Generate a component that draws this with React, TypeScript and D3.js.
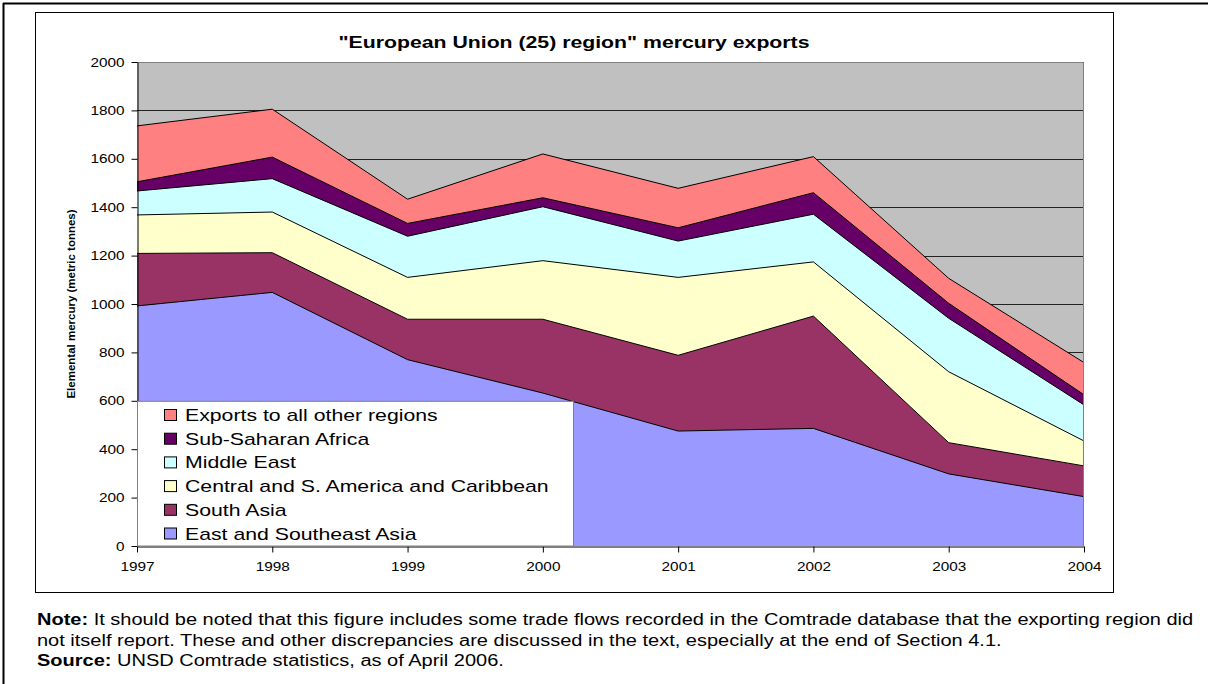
import React, { useEffect, useRef } from 'react'
import * as d3 from 'd3'

// values, metric tonnes
const years = [1997, 1998, 1999, 2000, 2001, 2002, 2003, 2004]
const eastAsia = [992, 1048, 770, 632, 475, 486, 298, 204]
const southAsia = [217, 164, 167, 305, 313, 464, 129, 127]
const latinAmerica = [159, 168, 173, 242, 322, 224, 293, 103]
const middleEast = [99, 138, 170, 223, 150, 197, 221, 149]
const subSaharan = [38, 89, 53, 37, 55, 89, 62, 42]
const otherRegions = [231, 198, 100, 181, 163, 149, 103, 133]

const seriesNames = [
  'East and Southeast Asia',
  'South Asia',
  'Central and S. America and Caribbean',
  'Middle East',
  'Sub-Saharan Africa',
  'Exports to all other regions'
]
const seriesColors = ['#9999ff', '#993366', '#ffffcc', '#ccffff', '#660066', '#ff8080']
const yTicks = [0, 200, 400, 600, 800, 1000, 1200, 1400, 1600, 1800, 2000]

const FONT = 'Liberation Sans, Arial, sans-serif'
// the source picture's text is a bit wider than Arial
const STRETCH = 1.25

function App () {
  const ref = useRef<SVGSVGElement>(null)

  useEffect(() => {
    const svg = d3.select(ref.current)
    svg.selectAll('*').remove()

    const allSeries = [eastAsia, southAsia, latinAmerica, middleEast, subSaharan, otherRegions]
    const rows = years.map((yr, i) => {
      const row: any = { year: yr }
      seriesNames.forEach((n, k) => { row[n] = allSeries[k][i] })
      return row
    })
    const stacked = d3.stack().keys(seriesNames)(rows)

    const left = 137
    const right = 1084
    const top = 62
    const bottom = 546

    const x = d3.scaleLinear().domain([1997, 2004]).range([left, right])
    const y = d3.scaleLinear().domain([0, 2000]).range([bottom, top])

    // wide text: placed at (tx, ty) and stretched horizontally
    function wideText (parent: any, tx: number, ty: number, s = STRETCH) {
      return parent.append('text').attr('transform', `translate(${tx},${ty}) scale(${s},1)`)
    }

    // page frame lines
    svg.append('line').attr('x1', 3).attr('x2', 1208).attr('y1', 3.5).attr('y2', 3.5)
      .attr('stroke', '#000').attr('stroke-width', 2)
    svg.append('line').attr('x1', 3.5).attr('x2', 3.5).attr('y1', 3).attr('y2', 684)
      .attr('stroke', '#000').attr('stroke-width', 2)

    // chart frame
    svg.append('rect').attr('x', 35.5).attr('y', 12.5).attr('width', 1078).attr('height', 580)
      .attr('fill', '#fff').attr('stroke', '#000').attr('stroke-width', 1)

    wideText(svg, 574, 48)
      .attr('text-anchor', 'middle')
      .attr('font-family', FONT).attr('font-size', 17).attr('font-weight', 'bold')
      .text('"European Union (25) region" mercury exports')

    // plot area
    svg.append('rect').attr('x', left).attr('y', top).attr('width', right - left).attr('height', bottom - top)
      .attr('fill', '#c0c0c0')

    svg.append('g').selectAll('line').data(yTicks.filter(t => t > 0)).enter().append('line')
      .attr('x1', left).attr('x2', right)
      .attr('y1', d => Math.round(y(d)) + 0.5).attr('y2', d => Math.round(y(d)) + 0.5)
      .attr('stroke', '#222').attr('stroke-width', 1)

    const area = d3.area<any>()
      .x(d => x(d.data.year))
      .y0(d => y(d[0]))
      .y1(d => y(d[1]))

    const topLine = d3.line<any>()
      .x(d => x(d.data.year))
      .y(d => y(d[1]))

    svg.append('g').selectAll('path').data(stacked).enter().append('path')
      .attr('d', area)
      .attr('fill', (d, i) => seriesColors[i])

    svg.append('g').selectAll('path').data(stacked).enter().append('path')
      .attr('d', topLine)
      .attr('fill', 'none')
      .attr('stroke', '#000').attr('stroke-width', 1)

    // plot border
    svg.append('path')
      .attr('d', `M${left},${top + 0.5}H${right - 0.5}V${bottom}`)
      .attr('fill', 'none').attr('stroke', '#808080').attr('stroke-width', 1)

    // axes
    const tickStretch = 1.18
    const yAxis = svg.append('g')
      .attr('transform', `translate(${left + 0.5},0)`)
      .call(d3.axisLeft(y).tickValues(yTicks).tickFormat(d3.format('d')).tickSize(6).tickSizeOuter(0))
    yAxis.selectAll('text')
      .attr('x', -13 / tickStretch)
      .attr('transform', `scale(${tickStretch},1)`)
      .attr('font-family', FONT).attr('font-size', 13).attr('fill', '#000')
    yAxis.selectAll('line, path').attr('stroke', '#000')

    const xAxis = svg.append('g')
      .attr('transform', `translate(0,${bottom + 0.5})`)
      .call(d3.axisBottom(x).tickValues(years).tickFormat(d3.format('d')).tickSize(6).tickSizeOuter(0).tickPadding(9))
    xAxis.selectAll('text')
      .attr('transform', `scale(${tickStretch},1)`)
      .attr('font-family', FONT).attr('font-size', 13).attr('fill', '#000')
    xAxis.selectAll('line, path').attr('stroke', '#000')

    svg.append('text')
      .attr('transform', `translate(75,${(top + bottom) / 2}) rotate(-90)`)
      .attr('text-anchor', 'middle')
      .attr('font-family', FONT).attr('font-size', 11.5).attr('font-weight', 'bold')
      .text('Elemental mercury (metric tonnes)')

    // legend
    const legend = svg.append('g')
    legend.append('rect')
      .attr('x', left + 0.5).attr('y', y(600) + 0.5).attr('width', 436).attr('height', bottom - y(600) - 0.5)
      .attr('fill', '#fff').attr('stroke', '#808080').attr('stroke-width', 1)
    const order = seriesNames.map((n, i) => i).reverse()
    order.forEach((d, k) => {
      const cy = 415 + k * 23.7
      legend.append('rect')
        .attr('x', 164.5).attr('y', cy - 5.5).attr('width', 12).attr('height', 11)
        .attr('fill', seriesColors[d]).attr('stroke', '#000').attr('stroke-width', 1)
      wideText(legend, 185, cy + 6)
        .attr('font-family', FONT).attr('font-size', 17)
        .text(seriesNames[d])
    })

    // note below the chart
    const note = svg.append('g').attr('font-family', FONT).attr('font-size', 16)
    const n1 = wideText(note, 37, 625)
    n1.append('tspan').attr('font-weight', 'bold').text('Note:')
    n1.append('tspan').text(' It should be noted that this figure includes some trade flows recorded in the Comtrade database that the exporting region did')
    wideText(note, 37, 646)
      .text('not itself report.  These and other discrepancies are discussed in the text, especially at the end of Section 4.1.')
    const n3 = wideText(note, 37, 666)
    n3.append('tspan').attr('font-weight', 'bold').text('Source:')
    n3.append('tspan').text(' UNSD Comtrade statistics, as of April 2006.')
  }, [])

  return (
    <svg
      ref={ref}
      width={1208}
      height={684}
      style={{ position: 'absolute', left: 0, top: 0, background: '#fff' }}
    />
  )
}

export default App
